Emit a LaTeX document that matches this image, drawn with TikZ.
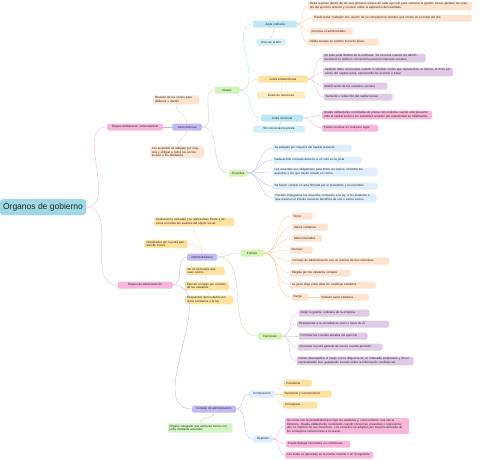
\documentclass[tikz,border=0pt]{standalone}
\usepackage{fontspec}
\setmainfont{Liberation Sans}
\definecolor{cRoot}{HTML}{9FD9E3}
\definecolor{cPink}{HTML}{F9B6DC}
\definecolor{cLav}{HTML}{C3B9F2}
\definecolor{cPeach}{HTML}{FDE3D0}
\definecolor{cGreen}{HTML}{D2F4B4}
\definecolor{cCyan}{HTML}{BDE8F2}
\definecolor{cCyanL}{HTML}{D6F0F7}
\definecolor{cYellow}{HTML}{FDE2A2}
\definecolor{cMauve}{HTML}{DFCBE6}
\definecolor{cBlue}{HTML}{E0EEFB}
\definecolor{cGreenL}{HTML}{D4F6C4}

\begin{document}
\begin{tikzpicture}[x=1pt, y=-1pt, every node/.style={font=\fontsize{3}{3.6}\selectfont, text=black!85},
	box/.style={rounded corners=1.5pt, inner xsep=2pt, inner ysep=1.2pt, minimum height=7pt},
	topic/.style={box, align=center},
	note/.style={box, align=left},
	link/.style={line width=0.4pt, out=0, in=180}]
	\useasboundingbox (0,0) rectangle (480,459);
	% root
	\node[topic, fill=cRoot, font=\fontsize{8.5}{10}\selectfont, rounded corners=3pt, minimum width=86pt, minimum height=16pt] (root) at (43,207) {Órganos de gobierno};
	% junta general
	\node[topic, fill=cPink, minimum width=56pt] (junta) at (135,127) {Órgano deliberante: Junta General};
	\node[topic, fill=cLav, minimum width=30pt] (jg) at (187,127) {Junta General};
	\node[note, fill=cPeach, text width=42pt] (jgdef) at (176,100) {Reunión de los socios para deliberar y decidir};
	\node[note, fill=cPeach, text width=50pt] (jgacu) at (177,152) {Los acuerdos se adoptan por mayoría y obligan a todos los socios, incluso a los disidentes.};
	\node[topic, fill=cGreen, minimum width=25pt] (clases) at (227,90) {Clases};
	\node[topic, fill=cGreen, minimum width=18pt] (acuerdos) at (238,173) {Acuerdos};
	\node[topic, fill=cCyan, minimum width=44pt] (ord) at (275,24) {Junta ordinaria};
	\node[topic, fill=cCyanL, minimum width=29pt] (ordn) at (271,42) {Una vez al año};
	\node[note, fill=cPeach, text width=160pt] (ord1) at (390,6) {Debe reunirse dentro de los seis primeros meses de cada ejercicio para censurar la gestión social, aprobar las cuentas del ejercicio anterior y resolver sobre la aplicación del resultado.};
	\node[note, fill=cPeach, text width=156pt] (ord2) at (392,18) {Puede tratar cualquier otro asunto de su competencia siempre que conste en el orden del día};
	\node[note, fill=cPeach, text width=39pt] (ord3) at (331,31) {Convoca el administrador};
	\node[note, fill=cPeach, text width=67pt] (ord4) at (343,42) {Válida aunque se celebre fuera de plazo};
	\node[topic, fill=cYellow, minimum width=50pt] (ext) at (283,79) {Junta extraordinaria};
	\node[topic, fill=cYellow!70, minimum width=48pt] (extn) at (281,95) {Resto de reuniones};
	\node[note, fill=cMauve, text width=99pt] (ext1) at (374,58) {Es toda junta distinta de la ordinaria. Se convoca cuando los administradores lo estimen conveniente para los intereses sociales.};
	\node[note, fill=cMauve, text width=126pt] (ext2) at (388,72) {También debe convocarse cuando lo soliciten socios que representen, al menos, el cinco por ciento del capital social, expresando los asuntos a tratar.};
	\node[note, fill=cMauve, text width=61pt] (ext3) at (355,86) {Modificación de los estatutos sociales};
	\node[note, fill=cMauve, text width=65pt] (ext4) at (358,97) {Aumento o reducción del capital social};
	\node[topic, fill=cCyan, minimum width=42pt] (uni) at (282,118) {Junta universal};
	\node[topic, fill=cCyanL, minimum width=52pt] (unin) at (279,129) {Sin convocatoria previa};
	\node[note, fill=cPink, text width=106pt] (uni1) at (377,115) {Queda válidamente constituida sin previa convocatoria cuando esté presente todo el capital social y los asistentes acepten por unanimidad su celebración.};
	\node[note, fill=cPink, text width=52pt] (uni2) at (350,128) {Puede reunirse en cualquier lugar};
	\node[note, fill=cBlue, text width=75pt] (acu1) at (312,148) {Se adoptan por mayoría del capital presente};
	\node[note, fill=cBlue, text width=85pt] (acu2) at (317,160) {Cada acción concede derecho a un voto en la junta};
	\node[note, fill=cBlue, text width=101pt] (acu3) at (325,172) {Los acuerdos son obligatorios para todos los socios, incluidos los ausentes y los que hayan votado en contra.};
	\node[note, fill=cBlue, text width=101pt] (acu4) at (325,186) {Se hacen constar en acta firmada por el presidente y el secretario};
	\node[note, fill=cBlue, text width=99pt] (acu5) at (325,198) {Pueden impugnarse los acuerdos contrarios a la ley, a los estatutos o que lesionen el interés social en beneficio de uno o varios socios.};
	% administracion
	\node[topic, fill=cPink, minimum width=55pt] (admin) at (145,285) {Órgano de administración};
	\node[topic, fill=cLav, minimum width=30pt] (adm) at (202,257) {Administradores};
	\node[note, fill=cYellow, text width=76pt] (admtop) at (194,222) {Gestionan la sociedad y la representan frente a terceros en todos los asuntos del objeto social.};
	\node[note, fill=cYellow, text width=39pt] (admleft) at (166,244) {Nombrados por la junta general de socios};
	\node[note, fill=cYellow, text width=35pt] (adm1) at (205,271) {No es necesario que sean socios};
	\node[note, fill=cYellow, text width=40pt] (adm2) at (207,286) {Ejercen el cargo por el plazo de los estatutos};
	\node[note, fill=cYellow, text width=44pt] (adm3) at (209,300) {Responden de los daños por actos contrarios a la ley};
	\node[topic, fill=cGreen, minimum width=23pt] (formas) at (252,253) {Formas};
	\node[note, fill=cPeach, text width=17pt] (for1) at (302,216) {Único};
	\node[note, fill=cPeach, text width=32pt] (for2) at (310,227) {Varios solidarios};
	\node[note, fill=cPeach, text width=26pt] (for3) at (307,238) {Mancomunados};
	\node[note, fill=cPeach, text width=19pt] (for4) at (301,250) {Consejo};
	\node[note, fill=cPeach, text width=95pt] (for5) at (340,261) {Consejo de administración con un mínimo de tres miembros};
	\node[note, fill=cPeach, text width=56pt] (for6) at (320,273) {Elegida por los estatutos sociales};
	\node[note, fill=cPeach, text width=82pt] (for7) at (333,285) {La junta elige entre ellas sin modificar estatutos};
	\node[note, fill=cPeach, text width=13pt] (for8) at (300,297) {Cargo};
	\node[note, fill=cPeach, text width=45pt] (for8a) at (344,297) {Gratuito salvo estatutos};
	\node[topic, fill=cGreen, minimum width=24pt] (func) at (270,336) {Funciones};
	\node[note, fill=cMauve, text width=67pt] (fun1) at (334,313) {Dirigir la gestión ordinaria de la empresa};
	\node[note, fill=cMauve, text width=88pt] (fun2) at (343,324) {Representar a la sociedad en juicio y fuera de él};
	\node[note, fill=cMauve, text width=65pt] (fun3) at (333,336) {Formular las cuentas anuales del ejercicio};
	\node[note, fill=cMauve, text width=81pt] (fun4) at (340,347) {Convocar la junta general de socios cuando proceda};
	\node[note, fill=cMauve, text width=113pt] (fun5) at (355,361) {Deben desempeñar el cargo con la diligencia de un ordenado empresario y de un representante leal, guardando secreto sobre la información confidencial.};
	\node[topic, fill=cLav, minimum width=44pt] (consejo) at (214,409) {Consejo de administración};
	\node[note, fill=cGreenL, text width=61pt] (conn) at (200,428) {Órgano colegiado que actúa de forma conjunta mediante acuerdos};
	\node[topic, fill=cBlue, minimum width=26pt] (comp) at (262,394) {Composición};
	\node[note, fill=cYellow, text width=24pt] (com1) at (298,383) {Presidente};
	\node[note, fill=cYellow, text width=45pt] (com2) at (307,394) {Secretario y vicesecretario};
	\node[note, fill=cYellow, text width=30pt] (com3) at (300,405) {Consejeros};
	\node[topic, fill=cBlue, minimum width=20pt] (reg) at (263,439) {Régimen};
	\node[note, fill=cPink, text width=120pt] (reg1) at (347,426) {Se reúne con la periodicidad que fijen los estatutos y, como mínimo, una vez al trimestre. Queda válidamente constituido cuando concurran, presentes o representados, la mayoría de sus miembros. Los acuerdos se adoptan por mayoría absoluta de los consejeros concurrentes a la sesión.};
	\node[note, fill=cPink, text width=60pt] (reg2) at (318,444) {Puede delegar facultades en comisiones};
	\node[note, fill=cPink, text width=84pt] (reg3) at (329,455) {Las actas se aprueban en la misma reunión o en la siguiente};
	% connectors
	\draw[link, cPink] (root.east) to (junta.west);
	\draw[link, cPink] (root.east) to (admin.west);
	\draw[link, cLav] (junta.east) to (jg.west);
	\draw[line width=0.4pt, cPeach!80!orange] (jg.north) to[out=90, in=-90] (jgdef.south);
	\draw[line width=0.4pt, cPeach!80!orange] (jg.south) to[out=-90, in=90] (jgacu.north);
	\draw[link, cGreen!80!black!60] (jg.east) to (clases.west);
	\draw[link, cGreen!80!black!60] (jg.east) to (acuerdos.west);
	\draw[link, cCyan] (clases.east) to (ord.west);
	\draw[link, cYellow] (clases.east) to (ext.west);
	\draw[link, cCyan] (clases.east) to (uni.west);
	\draw[line width=0.4pt, cCyan] (ord.south) -- (ordn.north);
	\draw[line width=0.4pt, cYellow] (ext.south) -- (extn.north);
	\draw[line width=0.4pt, cCyan] (uni.south) -- (unin.north);
	\foreach \n in {ord1,ord2,ord3,ord4} {\draw[link, cPeach!80!orange] (ord.east) to (\n.west);}
	\foreach \n in {ext1,ext2,ext3,ext4} {\draw[link, cMauve] (ext.east) to (\n.west);}
	\foreach \n in {uni1,uni2} {\draw[link, cPink] (uni.east) to (\n.west);}
	\foreach \n in {acu1,acu2,acu3,acu4,acu5} {\draw[link, cBlue!80!blue!90] (acuerdos.east) to (\n.west);}
	\draw[link, cLav] (admin.east) to (adm.west);
	\draw[link, cLav] (admin.east) to (consejo.west);
	\draw[line width=0.4pt, cYellow] (adm.north) to[out=90, in=-90] (admtop.south);
	\draw[line width=0.4pt, cYellow] (adm.north) to[out=90, in=0] (admleft.east);
	\draw[line width=0.4pt, cYellow] (adm.south) -- (adm1.north);
	\draw[line width=0.4pt, cYellow] (adm1.south) -- (adm2.north);
	\draw[line width=0.4pt, cYellow] (adm2.south) -- (adm3.north);
	\draw[link, cGreen!80!black!60] (adm.east) to (formas.west);
	\draw[link, cGreen!80!black!60] (adm.east) to (func.west);
	\foreach \n in {for1,for2,for3,for4,for5,for6,for7,for8} {\draw[link, cPeach!80!orange] (formas.east) to (\n.west);}
	\draw[line width=0.4pt, cPeach!80!orange] (for8.east) -- (for8a.west);
	\foreach \n in {fun1,fun2,fun3,fun4,fun5} {\draw[link, cMauve] (func.east) to (\n.west);}
	\draw[line width=0.4pt, cGreenL!80!black!70] (consejo.south) to[out=-90, in=90] (conn.north);
	\draw[link, cBlue!80!blue!90] (consejo.east) to (comp.west);
	\draw[link, cBlue!80!blue!90] (consejo.east) to (reg.west);
	\foreach \n in {com1,com2,com3} {\draw[link, cYellow] (comp.east) to (\n.west);}
	\foreach \n in {reg1,reg2,reg3} {\draw[link, cPink] (reg.east) to (\n.west);}
\end{tikzpicture}
\end{document}
